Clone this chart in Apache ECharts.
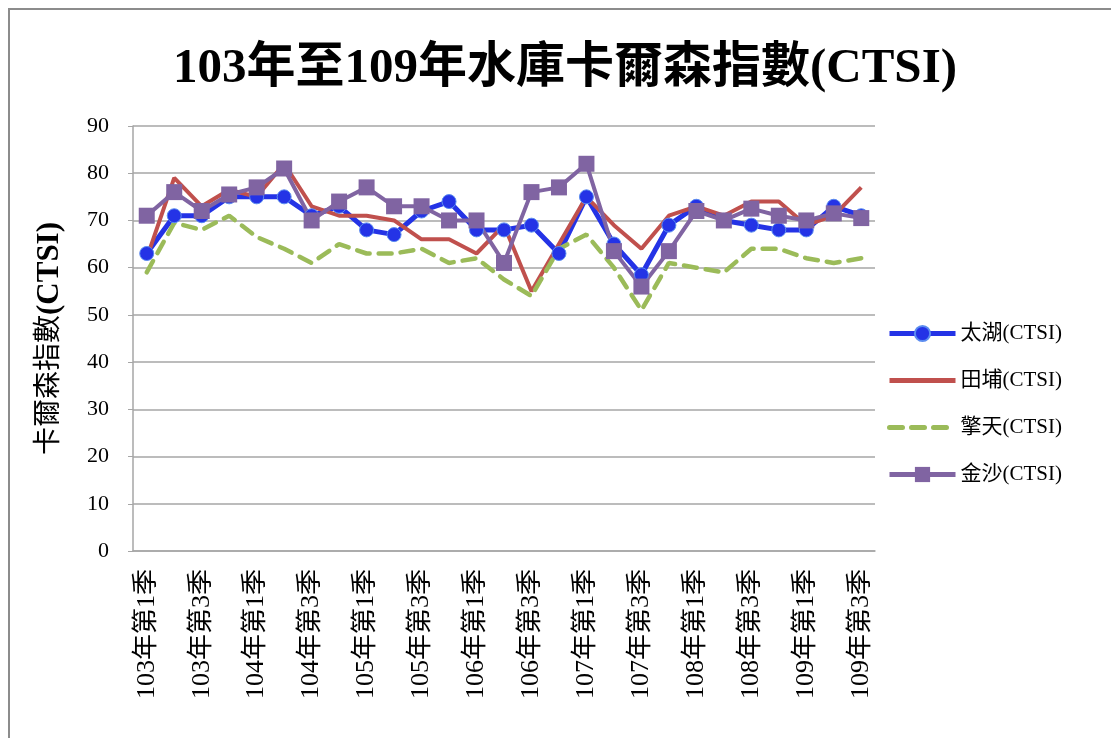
<!DOCTYPE html>
<html>
<head>
<meta charset="utf-8">
<script src="https://cdn.jsdelivr.net/npm/echarts@6/dist/echarts.min.js"></script>
<style>
  html, body { margin: 0; padding: 0; background: #fff; }
  #chart { width: 1111px; height: 738px; }
</style>
</head>
<body>
<div id="chart"></div>
<script>
// quarters 103Q1 .. 109Q3
const years = ["103", "104", "105", "106", "107", "108", "109"];
const quarters = [];
years.forEach(y => {
  for (let q = 1; q <= 4; q++) quarters.push(y + "年第" + q + "季");
});
quarters.length = 27;

const taihu = [63, 71, 71, 75, 75, 75, 71, 73, 68, 67, 72, 74, 68, 68, 69, 63, 75, 65, 58.5, 69, 73, 70, 69, 68, 68, 73, 71];
const tianpu = [62, 79, 73, 76.5, 75, 82, 73, 71, 71, 70, 66, 66, 63, 69, 55, 65, 75, 69, 64, 71, 73, 71, 74, 74, 69, 71, 77];
const qingtian = [59, 69.5, 68, 71, 66.5, 64, 61, 65, 63, 63, 64, 61, 62, 57.5, 54, 64, 67, 60, 51, 61, 60, 59, 64, 64, 62, 61, 62];
const jinsha = [71, 76, 72, 75.5, 77, 81, 70, 74, 77, 73, 73, 70, 70, 61, 76, 77, 82, 63.5, 56, 63.5, 72, 70, 72.5, 71, 70, 71.5, 70.5];

const serif = '"Liberation Serif", "Noto Sans CJK TC", serif';
const gridColor = "#a6a6a6";
const noMark = { color: "rgba(0,0,0,0)", borderWidth: 0 };

const chart = echarts.init(document.getElementById("chart"));
const option = {
  backgroundColor: "#fff",
  animation: false,
  title: {
    text: "103年至109年水庫卡爾森指數(CTSI)",
    left: 560,
    textAlign: "center",
    top: 40,
    textStyle: { fontFamily: serif, fontSize: 49, fontWeight: "bold", color: "#000" }
  },
  graphic: [{
    type: "polyline",
    shape: { points: [[9, 738], [9, 9], [1111, 9]] },
    style: { stroke: "#8c8c8c", lineWidth: 2, fill: null }
  }],
  legend: {
    orient: "vertical",
    left: 882,
    top: 318,
    itemWidth: 66,
    itemHeight: 19,
    itemGap: 26,
    lineStyle: { width: 5 },
    textStyle: { fontFamily: serif, fontSize: 21, color: "#000" },
    data: [
      { name: "太湖(CTSI)" },
      { name: "田埔(CTSI)", itemStyle: noMark },
      { name: "擎天(CTSI)", itemStyle: noMark },
      { name: "金沙(CTSI)" }
    ]
  },
  grid: { left: 133, right: 236, top: 126, bottom: 187 },
  xAxis: {
    type: "category",
    data: quarters,
    boundaryGap: true,
    axisLine: { lineStyle: { color: gridColor, width: 1.5 } },
    axisTick: { show: false },
    axisLabel: {
      interval: 1,
      rotate: 90,
      margin: 18,
      fontFamily: serif,
      fontSize: 26,
      color: "#000"
    }
  },
  yAxis: {
    type: "value",
    min: 0,
    max: 90,
    interval: 10,
    name: "{a|卡爾森指數}{b|(CTSI)}",
    nameLocation: "middle",
    nameGap: 68,
    nameRotate: 90,
    nameTextStyle: {
      rich: {
        a: { fontFamily: serif, fontSize: 28, color: "#000" },
        b: { fontFamily: serif, fontSize: 31, fontWeight: "bold", color: "#000" }
      }
    },
    axisLine: { show: true, lineStyle: { color: gridColor, width: 1.5 } },
    axisTick: { show: true, length: 5, lineStyle: { color: gridColor } },
    axisLabel: { margin: 24, fontFamily: serif, fontSize: 22, color: "#000" },
    splitLine: { lineStyle: { color: gridColor, width: 1.5 } }
  },
  series: [
    {
      name: "太湖(CTSI)",
      type: "line",
      data: taihu,
      symbol: "circle",
      symbolSize: 14,
      lineStyle: { color: "#2433e6", width: 5 },
      itemStyle: { color: "#2433e6", borderColor: "#5b8cf0", borderWidth: 1 }
    },
    {
      name: "田埔(CTSI)",
      type: "line",
      data: tianpu,
      symbol: "none",
      lineStyle: { color: "#c0504d", width: 4 },
      itemStyle: { color: "#c0504d" }
    },
    {
      name: "擎天(CTSI)",
      type: "line",
      data: qingtian,
      symbol: "none",
      lineStyle: { color: "#9bbb59", width: 4.5, type: [13, 9], cap: "round" },
      itemStyle: { color: "#9bbb59" }
    },
    {
      name: "金沙(CTSI)",
      type: "line",
      data: jinsha,
      symbol: "rect",
      symbolSize: 16,
      lineStyle: { color: "#8064a2", width: 4 },
      itemStyle: { color: "#8064a2" }
    }
  ]
};
chart.setOption(option);
</script>
</body>
</html>
